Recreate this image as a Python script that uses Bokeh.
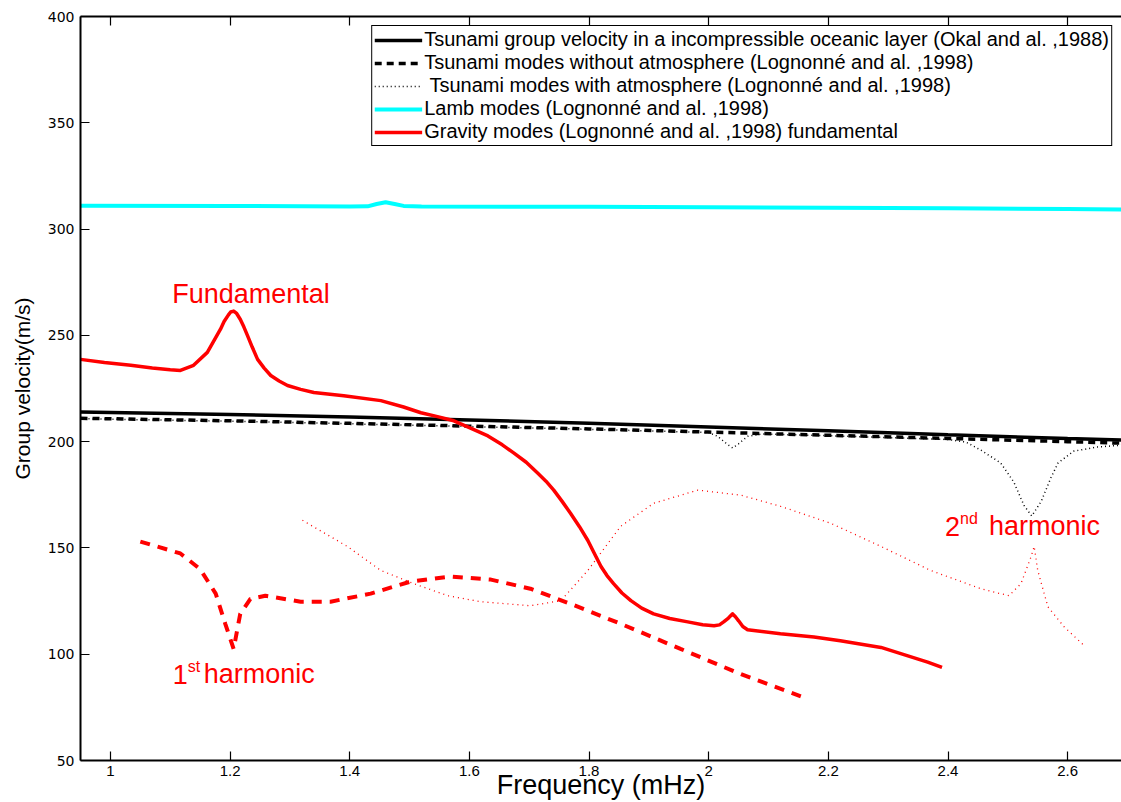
from bokeh.plotting import figure
from bokeh.models import Range1d, LinearAxis, FixedTicker, CustomJSTickFormatter, Label, Legend, LegendItem
from bokeh.embed import file_html
from bokeh.resources import INLINE

# ---- data ----
lamb_f = [0.95, 1.2, 1.4, 1.43, 1.445, 1.46, 1.475, 1.49, 1.52, 1.8, 2.0, 2.2, 2.4, 2.6, 2.7]
lamb_v = [311.0, 310.9, 310.6, 310.7, 311.8, 312.6, 311.8, 310.9, 310.6, 310.5, 310.3, 310.0, 309.8, 309.4, 309.2]

okal_f = [0.95, 1.2, 1.4, 1.6, 1.8, 2.0, 2.2, 2.4, 2.6, 2.7]
okal_v = [214.0, 212.8, 211.6, 210.2, 208.6, 206.9, 205.1, 203.2, 201.5, 200.7]

tsu_f = [0.95, 1.2, 1.4, 1.6, 1.8, 2.0, 2.2, 2.4, 2.6, 2.7]
tsu_v = [211.0, 209.8, 208.6, 207.3, 206.0, 204.5, 203.0, 201.5, 200.0, 199.2]

atm_f = [0.95, 1.2, 1.4, 1.6, 1.8, 2.0, 2.015, 2.03, 2.04, 2.05, 2.065, 2.09, 2.2, 2.4, 2.43,
         2.455, 2.488, 2.51, 2.527, 2.54, 2.556, 2.572, 2.584, 2.61, 2.65, 2.7]
atm_v = [210.8, 209.6, 208.4, 207.1, 205.8, 204.3, 202.5, 199.0, 197.0, 199.0, 202.5, 203.6, 202.8, 201.0, 199.8,
         196.0, 190.0, 181.0, 170.0, 165.0, 172.0, 183.0, 190.0, 195.5, 197.5, 198.5]

fund_f = [0.95, 0.99, 1.034, 1.07, 1.10, 1.117, 1.139, 1.162, 1.184, 1.190, 1.197, 1.201, 1.206, 1.211,
          1.217, 1.223, 1.229, 1.237, 1.246, 1.257, 1.268, 1.282, 1.296, 1.318, 1.340, 1.39, 1.452, 1.49,
          1.519, 1.545, 1.574, 1.60, 1.631, 1.655, 1.674, 1.695, 1.714, 1.728, 1.741, 1.755, 1.769, 1.784,
          1.798, 1.810, 1.820, 1.830, 1.841, 1.855, 1.870, 1.888, 1.908, 1.935, 1.965, 1.99, 2.009, 2.018,
          2.025, 2.033, 2.040, 2.045, 2.050, 2.057, 2.065, 2.12, 2.176, 2.22, 2.288, 2.366, 2.39]
fund_v = [238.7, 237.2, 235.9, 234.6, 233.8, 233.5, 235.9, 242.0, 252.9, 256.5, 259.5, 261.0, 261.4, 260.3,
          257.6, 254.0, 250.0, 244.5, 238.7, 234.6, 231.1, 228.5, 226.4, 224.6, 223.1, 221.6, 219.3, 216.3,
          213.6, 211.9, 209.8, 206.6, 202.7, 198.5, 194.7, 190.3, 185.2, 181.4, 177.2, 171.9, 166.3, 160.0,
          153.5, 146.8, 141.3, 137.0, 133.2, 128.8, 125.2, 121.7, 119.0, 116.8, 115.2, 113.9, 113.4, 113.8,
          115.2, 117.0, 119.0, 117.5, 115.7, 113.0, 111.5, 109.6, 108.1, 106.3, 103.2, 96.3, 93.8]

h1_f = [1.05, 1.117, 1.15, 1.176, 1.192, 1.206, 1.217, 1.234, 1.259, 1.318, 1.368, 1.435, 1.502, 1.569,
        1.636, 1.702, 1.769, 1.853, 1.953, 2.054, 2.154]
h1_v = [153.0, 147.4, 140.0, 128.5, 114.3, 102.5, 119.0, 126.0, 127.5, 124.7, 124.7, 128.5, 134.2, 136.5,
        135.1, 130.8, 123.7, 114.3, 102.5, 90.6, 80.2]

h2_f = [1.321, 1.396, 1.452, 1.507, 1.564, 1.619, 1.702, 1.753, 1.798, 1.853, 1.908, 1.982, 2.054,
        2.12, 2.204, 2.288, 2.371, 2.455, 2.502, 2.522, 2.539, 2.544, 2.55, 2.567, 2.594, 2.63]
h2_v = [163.0, 150.7, 139.4, 133.2, 127.5, 124.7, 122.8, 125.2, 139.4, 160.2, 171.0, 177.2, 174.8,
        169.6, 161.6, 150.7, 139.4, 130.8, 127.5, 133.2, 146.0, 150.7, 139.4, 122.3, 112.9, 103.4]

x_ticks = [1, 1.2, 1.4, 1.6, 1.8, 2, 2.2, 2.4, 2.6]
y_ticks = [50, 100, 150, 200, 250, 300, 350, 400]

legend_labels = [
    "Tsunami group velocity in a incompressible oceanic layer (Okal and al. ,1988)",
    "Tsunami modes without atmosphere (Lognonné and al. ,1998)",
    " Tsunami modes with atmosphere (Lognonné and al. ,1998)",
    "Lamb modes (Lognonné and al. ,1998)",
    "Gravity modes (Lognonné and al. ,1998) fundamental",
]

# ---- figure ----
p = figure(width=1121, height=802, output_backend="svg", toolbar_location=None,
           x_range=Range1d(0.95, 2.69), y_range=Range1d(50, 400),
           min_border_left=80, min_border_right=0, min_border_top=16, min_border_bottom=0)
p.xgrid.visible = False
p.ygrid.visible = False
p.outline_line_color = None
p.background_fill_color = "white"

r_atm = p.line(atm_f, atm_v, line_color="black", line_width=1.5, line_dash="1 3")
r_tsu = p.line(tsu_f, tsu_v, line_color="black", line_width=3.5, line_dash="7 5")
r_okal = p.line(okal_f, okal_v, line_color="black", line_width=3.5)
r_lamb = p.line(lamb_f, lamb_v, line_color="#00ffff", line_width=4, line_join="round")
p.line(h2_f, h2_v, line_color="red", line_width=1.3, line_dash="1 4")
p.line(h1_f, h1_v, line_color="red", line_width=4, line_dash="10 8")
r_fund = p.line(fund_f, fund_v, line_color="red", line_width=3.5, line_join="round")

legend = Legend(items=[LegendItem(label=legend_labels[0], renderers=[r_okal]),
                       LegendItem(label=legend_labels[1], renderers=[r_tsu]),
                       LegendItem(label=legend_labels[2], renderers=[r_atm]),
                       LegendItem(label=legend_labels[3], renderers=[r_lamb]),
                       LegendItem(label=legend_labels[4], renderers=[r_fund])],
                location="top_right")
legend.label_text_font = "Liberation Sans"
legend.label_text_font_size = "20px"
legend.label_text_color = "black"
legend.glyph_width = 48
legend.glyph_height = 18
legend.label_height = 18
legend.spacing = 0
legend.padding = 2
legend.margin = 9
legend.label_standoff = 2
legend.border_line_color = "black"
legend.border_line_width = 1.5
legend.border_line_alpha = 1.0
legend.background_fill_alpha = 1.0
p.add_layout(legend)

# axes
xa = p.xaxis[0]
xa.ticker = FixedTicker(ticks=x_ticks)
xa.formatter = CustomJSTickFormatter(code="return String(Math.round(tick*10)/10)")
xa.axis_label = "Frequency (mHz)"
xa.axis_label_text_font = "Liberation Sans"
xa.axis_label_text_font_size = "27px"
xa.axis_label_text_font_style = "normal"
xa.axis_label_standoff = -9
xa.major_label_text_font = "Liberation Sans"
xa.major_label_text_font_size = "15px"
xa.major_label_standoff = 5

ya = p.yaxis[0]
ya.ticker = FixedTicker(ticks=y_ticks)
ya.axis_label = "Group velocity(m/s)"
ya.axis_label_text_font = "Liberation Sans"
ya.axis_label_text_font_size = "21px"
ya.axis_label_text_font_style = "normal"
ya.axis_label_standoff = 11
ya.major_label_text_font = "DejaVu Sans"
ya.major_label_text_font_size = "14px"
ya.major_label_standoff = 6

for ax in (xa, ya):
    ax.major_tick_in = 9
    ax.major_tick_out = 0
    ax.minor_tick_line_color = None
    ax.axis_line_width = 2
    ax.major_tick_line_width = 1.2
    ax.major_label_text_color = "black"
    ax.axis_label_text_color = "black"

top = LinearAxis(ticker=FixedTicker(ticks=x_ticks),
                 formatter=CustomJSTickFormatter(code="return ''"),
                 major_tick_in=9, major_tick_out=0, minor_tick_line_color=None,
                 axis_line_width=2, major_tick_line_width=1.2, major_label_standoff=0)
p.add_layout(top, "above")

# annotations
def lbl(x, y, text, size, xo=0, yo=0):
    p.add_layout(Label(x=x, y=y, text=text, text_color="red", text_font="Liberation Sans",
                       text_font_size=size, text_baseline="middle", x_offset=xo, y_offset=yo))

p.add_layout(Label(x=1.235, y=269.5, text="Fundamental", text_color="red", text_font="Liberation Sans",
                   text_font_size="27px", text_baseline="middle", text_align="center"))
lbl(1.104, 90.6, "1", "27px")
lbl(1.104, 90.6, "st", "16px", xo=15, yo=8)
lbl(1.104, 90.6, "harmonic", "27px", xo=31)
lbl(2.395, 160.2, "2", "27px")
lbl(2.395, 160.2, "nd", "16px", xo=15, yo=8)
lbl(2.395, 160.2, "harmonic", "27px", xo=44)

open("out.html", "w").write(file_html(p, INLINE))
